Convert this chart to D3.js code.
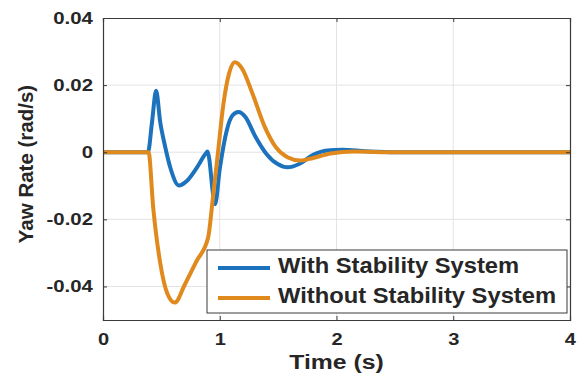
<!DOCTYPE html>
<html>
<head>
  <meta charset="utf-8">
  <title>Yaw Rate</title>
  <style>
    body { margin: 0; background: #fff; }
    text { font-family: "Liberation Sans", Arial, sans-serif; font-weight: bold; fill: #262626; }
    .grid line { stroke: #e3e3e3; stroke-width: 1px; }
    .series { fill: none; stroke-width: 4px; stroke-linejoin: round; }
    /* the picture is a little wider than tall, so stretch text sideways */
    .wide { transform-box: fill-box; }
    .wide-r { transform-origin: right center; transform: scaleX(1.2); }
    .wide-c { transform-origin: center; transform: scaleX(1.18); }
    .wide-l { transform-origin: left center; transform: scaleX(1.08); }
  </style>
</head>
<body>
  <svg id="chart"></svg>
  <script src="https://d3js.org/d3.v7.min.js"></script>
  <script>
    // tick values
    const xTicks = [0, 1, 2, 3, 4];
    const yTicks = [-0.04, -0.02, 0, 0.02, 0.04];

    // series names and colours
    const seriesNames = ["With Stability System", "Without Stability System"];
    const seriesColors = ["#1c72bc", "#e0891c"];

    // [time (s), yaw rate (rad/s)]
    const withSystem = [
      [0, 0], [0.385, 0], [0.42, 0.009], [0.455, 0.0183], [0.49, 0.009],
      [0.53, 0.002], [0.58, -0.005], [0.65, -0.0099], [0.72, -0.0085],
      [0.80, -0.0048], [0.88, -0.0004], [0.895, 0.0002], [0.96, -0.0155],
      [1.00, -0.005], [1.06, 0.0065], [1.11, 0.011], [1.16, 0.012], [1.22, 0.0105],
      [1.30, 0.005], [1.40, -0.0005], [1.50, -0.0036], [1.58, -0.0045],
      [1.68, -0.0035], [1.80, -0.0008], [1.92, 0.0005], [2.05, 0.0007],
      [2.25, 0.0003], [2.5, 0], [4, 0]
    ];
    const withoutSystem = [
      [0, 0], [0.39, 0], [0.43, -0.0165], [0.49, -0.033], [0.55, -0.042],
      [0.615, -0.0448], [0.70, -0.0395], [0.80, -0.0325], [0.90, -0.0255],
      [0.94, -0.014], [0.985, 0], [1.03, 0.014], [1.08, 0.0235], [1.13, 0.0268],
      [1.19, 0.025], [1.28, 0.0175], [1.38, 0.008], [1.48, 0.0015],
      [1.58, -0.0015], [1.69, -0.0025], [1.80, -0.0017], [1.95, -0.0004],
      [2.15, 0.0002], [2.5, 0], [4, 0]
    ];
    const seriesData = [withSystem, withoutSystem];

    const width = 582, height = 379;
    const margin = { top: 18, right: 12, bottom: 59, left: 103 };
    const innerW = width - margin.left - margin.right;
    const innerH = height - margin.top - margin.bottom;

    const svg = d3.select("#chart")
      .attr("width", width)
      .attr("height", height);

    const x = d3.scaleLinear().domain([0, 4]).range([margin.left, margin.left + innerW]);
    const y = d3.scaleLinear().domain([-0.05, 0.04]).range([margin.top + innerH, margin.top]);

    // grid
    const grid = svg.append("g").attr("class", "grid");
    grid.selectAll(".gx")
      .data(xTicks.slice(1, -1))
      .enter().append("line")
      .attr("x1", d => x(d)).attr("x2", d => x(d))
      .attr("y1", margin.top).attr("y2", margin.top + innerH);
    grid.selectAll(".gy")
      .data(yTicks.slice(0, -1))
      .enter().append("line")
      .attr("x1", margin.left).attr("x2", margin.left + innerW)
      .attr("y1", d => y(d)).attr("y2", d => y(d));

    // curves
    const line = d3.line()
      .x(d => x(d[0]))
      .y(d => y(d[1]))
      .curve(d3.curveMonotoneX);

    const plot = svg.append("g");
    plot.selectAll(".series")
      .data(seriesData)
      .enter().append("path")
      .attr("class", "series")
      .attr("stroke", (d, i) => seriesColors[i])
      .attr("d", line);

    // axes (box with inward ticks)
    const axisColor = "#3a3a3a";
    const xAxis = svg.append("g")
      .attr("transform", `translate(0,${margin.top + innerH})`)
      .call(d3.axisBottom(x).tickValues(xTicks).tickSize(-4).tickPadding(13).tickFormat(d3.format("d")));
    const yAxis = svg.append("g")
      .attr("transform", `translate(${margin.left},0)`)
      .call(d3.axisLeft(y).tickValues(yTicks).tickSize(-4).tickPadding(10)
        .tickFormat(d => d === 0 ? "0" : d3.format(".2f")(d).replace("\u2212", "-")));
    const xTop = svg.append("g")
      .attr("transform", `translate(0,${margin.top})`)
      .call(d3.axisTop(x).tickValues(xTicks).tickSize(-4).tickFormat(""));
    const yRight = svg.append("g")
      .attr("transform", `translate(${margin.left + innerW},0)`)
      .call(d3.axisRight(y).tickValues(yTicks).tickSize(-4).tickFormat(""));

    [xAxis, yAxis, xTop, yRight].forEach(g => {
      g.select(".domain").attr("stroke", axisColor).attr("stroke-width", 1.2);
      g.selectAll(".tick line").attr("stroke", axisColor);
      g.selectAll("text").style("font-size", "17px").style("font-family", "Liberation Sans, Arial, sans-serif")
        .style("font-weight", "bold").attr("fill", "#262626");
    });
    xAxis.selectAll("text").attr("class", "wide wide-c");
    yAxis.selectAll("text").attr("class", "wide wide-r");

    // axis titles
    svg.append("text")
      .attr("class", "wide wide-c")
      .attr("x", x(2))
      .attr("y", 369)
      .attr("text-anchor", "middle")
      .style("font-size", "21px")
      .text("Time (s)");
    svg.append("text")
      .attr("transform", "translate(33,164) rotate(-90)")
      .attr("text-anchor", "middle")
      .style("font-size", "20.5px")
      .text("Yaw Rate (rad/s)");

    // legend
    const legend = svg.append("g").attr("transform", "translate(207,250)");
    legend.append("rect")
      .attr("width", 360).attr("height", 63)
      .attr("fill", "#fff")
      .attr("stroke", axisColor).attr("stroke-width", 1);
    const items = legend.selectAll(".item")
      .data(seriesNames)
      .enter().append("g")
      .attr("transform", (d, i) => `translate(0,${18 + i * 30})`);
    items.append("line")
      .attr("x1", 11).attr("x2", 63)
      .attr("stroke", (d, i) => seriesColors[i])
      .attr("stroke-width", 4);
    items.append("text")
      .attr("class", "wide wide-l")
      .attr("x", 71)
      .attr("y", 5)
      .style("font-size", "22px")
      .text(d => d);
  </script>
</body>
</html>
